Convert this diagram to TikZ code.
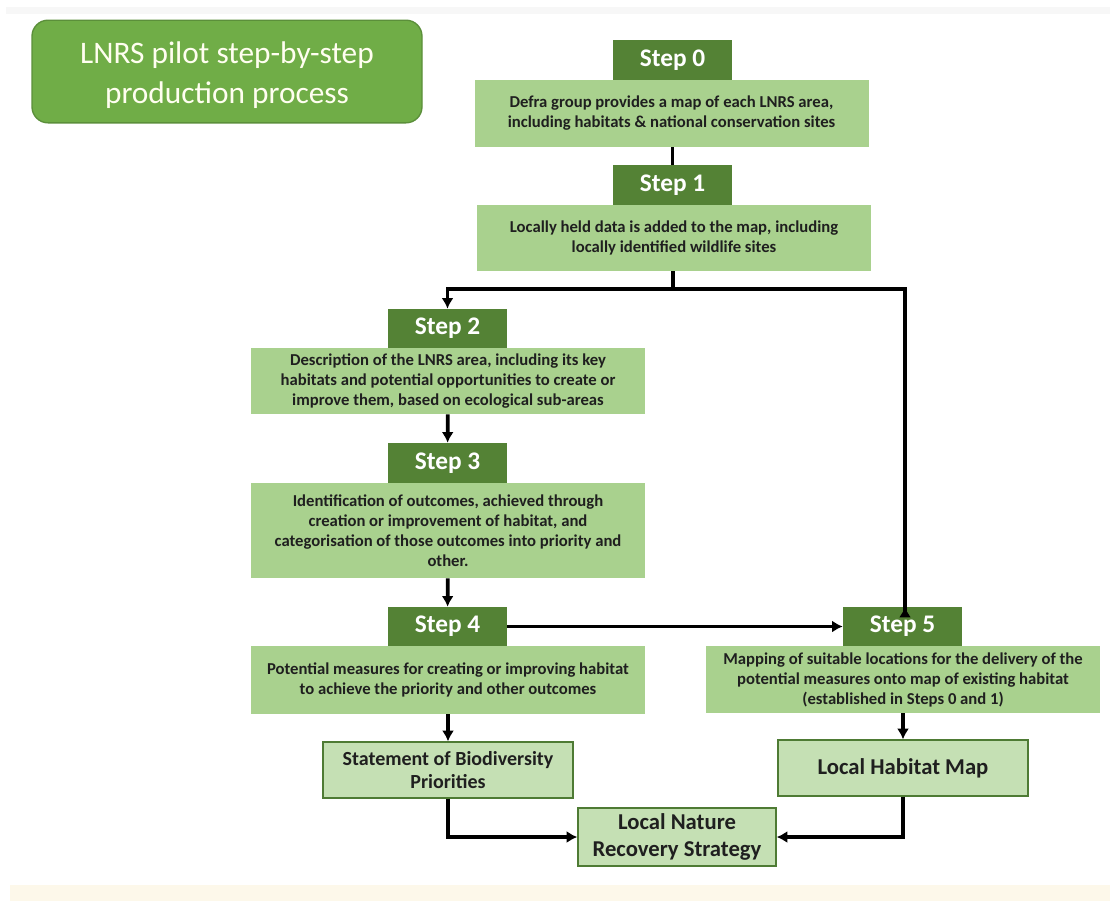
\documentclass[tikz,border=0pt]{standalone}
\usepackage{fontspec}
\setmainfont{Carlito}
\usetikzlibrary{arrows.meta}

\definecolor{titlegreen}{HTML}{70AD47}
\definecolor{titleedge}{HTML}{5B8F3A}
\definecolor{headgreen}{HTML}{548235}
\definecolor{bodygreen}{HTML}{A9D18E}
\definecolor{outgreen}{HTML}{C5E0B4}
\definecolor{outedge}{HTML}{4E7B34}
\definecolor{bandcream}{HTML}{FDF8EA}

\tikzset{
  stephead/.style={fill=headgreen, text=white, inner sep=0pt,
    minimum width=89.25pt, minimum height=30pt,
    font=\bfseries\fontsize{19}{22}\selectfont},
  stepbody/.style={fill=bodygreen, text=black!88, inner sep=0pt, align=center,
    minimum width=295.5pt, font=\bfseries\fontsize{12.5}{15}\selectfont},
  outbox/.style={fill=outgreen, draw=outedge, line width=1pt, text=black!88,
    inner sep=0pt, align=center, minimum width=187.5pt, minimum height=42pt,
    font=\bfseries\fontsize{15}{17.5}\selectfont},
  link/.style={line width=2.8pt, black},
  flow/.style={link, -{Latex[length=8pt,width=9pt]}}
}

\begin{document}
\begin{tikzpicture}[x=0.75pt, y=-0.75pt]
  \useasboundingbox (0,0) rectangle (1110,901);
  % page bands
  \fill [black!3] (6,7) rectangle (1110,14);
  \fill [bandcream] (10,885) rectangle (1110,901);

  % title
  \node (title) [fill=titlegreen, draw=titleedge, line width=1pt, rounded corners=12pt,
    minimum width=292.5pt, minimum height=77pt] at (227,71.5) {};
  \node (titletext) [align=center, text=white!94!yellow, yshift=-3pt,
    font=\fontsize{23.5}{30}\selectfont] at (title.center)
    {LNRS pilot step-by-step\\production process};

  % steps
  \node (h0) [stephead] at (672.5,60) {Step 0};
  \node (b0) [stepbody, minimum height=50.25pt] at (671.5,113.5)
    {Defra group provides a map of each LNRS area,\\including habitats \& national conservation sites};
  \node (h1) [stephead] at (672.5,185) {Step 1};
  \node (b1) [stepbody, minimum height=49.5pt] at (674,238)
    {Locally held data is added to the map, including\\locally identified wildlife sites};
  \node (h2) [stephead, minimum height=29.25pt] at (447.5,328.5) {Step 2};
  \node (b2) [stepbody, minimum height=49.5pt] at (448,381)
    {Description of the LNRS area, including its key\\habitats and potential opportunities to create or\\improve them, based on ecological sub-areas};
  \node (h3) [stephead] at (447.5,463) {Step 3};
  \node (b3) [stepbody, minimum height=71.25pt] at (448,530.5)
    {Identification of outcomes, achieved through\\creation or improvement of habitat, and\\categorisation of those outcomes into priority and\\other.};
  \node (h4) [stephead, minimum height=29.25pt] at (447.5,626.5) {Step 4};
  \node (b4) [stepbody, minimum height=51pt] at (448,680)
    {Potential measures for creating or improving habitat\\to achieve the priority and other outcomes};
  \node (h5) [stephead, minimum height=29.25pt] at (902.5,626.5) {Step 5};
  \node (b5) [stepbody, minimum height=50.25pt] at (903,679.5)
    {Mapping of suitable locations for the delivery of the\\potential measures onto map of existing habitat\\(established in Steps 0 and 1)};

  % outputs
  \node (sbp) [outbox] at (448,770) {Statement of Biodiversity\\Priorities};
  \node (lhm) [outbox, font=\bfseries\fontsize{17}{20}\selectfont] at (903,768) {Local Habitat Map};
  \node (lnrs) [outbox, minimum width=148.5pt, minimum height=43.5pt,
    font=\bfseries\fontsize{17}{20}\selectfont] at (677,837)
    {Local Nature\\Recovery Strategy};

  % connectors
  \coordinate (split) at (673,289);
  \draw [link] (b0.south -| h1) -- (h1.north);
  \draw [link] (b1.south -| split) -- (split);
  \draw [flow] (split) -| (h2.north);
  \draw [flow] (split) -| (905,608) -- (905,608 |- h5.north);
  \draw [flow] (b2) -- (h3);
  \draw [flow] (b3) -- (h4);
  \draw [flow] (h4) -- (h5);
  \draw [flow] (b4) -- (sbp);
  \draw [flow] (b5.south -| lhm) -- (lhm);
  \draw [flow] (sbp.south) |- (lnrs.west);
  \draw [flow] (lhm.south) |- (lnrs.east);
\end{tikzpicture}
\end{document}
